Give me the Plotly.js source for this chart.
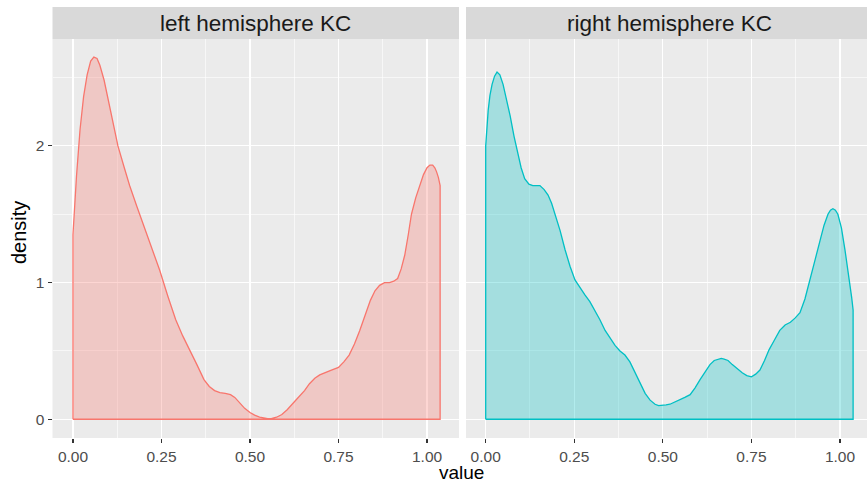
<!DOCTYPE html>
<html>
<head>
<meta charset="utf-8">
<script src="https://cdn.plot.ly/plotly-3.0.1.min.js"></script>
<style>html,body{margin:0;padding:0;background:#fff;}#chart{width:867px;height:483px;}</style>
</head>
<body>
<div id="chart"></div>
<script>
// Panel titles
const panelTitles = ["left hemisphere KC", "right hemisphere KC"];

// Left hemisphere KC density (value, density)
const leftX = [0.000, 0.010, 0.020, 0.030, 0.040, 0.050, 0.059, 0.068, 0.076, 0.088, 0.100, 0.113, 0.127, 0.145, 0.160, 0.180, 0.200, 0.222, 0.245, 0.268, 0.290, 0.310, 0.330, 0.350, 0.370, 0.385, 0.400, 0.415, 0.430, 0.445, 0.457, 0.470, 0.485, 0.500, 0.513, 0.527, 0.540, 0.550, 0.560, 0.575, 0.590, 0.605, 0.626, 0.640, 0.654, 0.668, 0.683, 0.697, 0.710, 0.730, 0.750, 0.765, 0.780, 0.795, 0.810, 0.825, 0.840, 0.853, 0.866, 0.880, 0.894, 0.906, 0.917, 0.927, 0.937, 0.947, 0.956, 0.968, 0.979, 0.990, 1.000, 1.008, 1.016, 1.022, 1.027, 1.032, 1.037];
const leftY = [1.35, 1.78, 2.12, 2.36, 2.52, 2.62, 2.65, 2.64, 2.59, 2.48, 2.34, 2.18, 2.00, 1.84, 1.71, 1.56, 1.42, 1.26, 1.09, 0.90, 0.73, 0.61, 0.51, 0.40, 0.29, 0.24, 0.21, 0.195, 0.19, 0.18, 0.16, 0.125, 0.08, 0.05, 0.03, 0.015, 0.008, 0.005, 0.005, 0.015, 0.035, 0.07, 0.13, 0.17, 0.21, 0.26, 0.30, 0.325, 0.34, 0.36, 0.38, 0.42, 0.47, 0.55, 0.65, 0.76, 0.87, 0.94, 0.98, 1.00, 1.00, 1.01, 1.03, 1.10, 1.20, 1.35, 1.50, 1.62, 1.71, 1.79, 1.84, 1.86, 1.86, 1.84, 1.81, 1.77, 1.71];

// Right hemisphere KC density (value, density)
const rightX = [0.000, 0.007, 0.012, 0.018, 0.025, 0.032, 0.040, 0.049, 0.058, 0.069, 0.080, 0.091, 0.100, 0.110, 0.122, 0.133, 0.143, 0.153, 0.165, 0.176, 0.186, 0.196, 0.210, 0.224, 0.238, 0.252, 0.266, 0.280, 0.294, 0.308, 0.322, 0.337, 0.351, 0.365, 0.379, 0.393, 0.407, 0.420, 0.435, 0.450, 0.464, 0.478, 0.488, 0.498, 0.509, 0.520, 0.534, 0.548, 0.562, 0.577, 0.591, 0.605, 0.619, 0.633, 0.645, 0.656, 0.665, 0.673, 0.684, 0.696, 0.710, 0.724, 0.737, 0.750, 0.762, 0.774, 0.787, 0.800, 0.815, 0.830, 0.845, 0.860, 0.873, 0.887, 0.901, 0.916, 0.930, 0.944, 0.955, 0.966, 0.973, 0.980, 0.987, 0.994, 1.004, 1.014, 1.021, 1.028, 1.033, 1.037];
const rightY = [2.00, 2.26, 2.37, 2.45, 2.51, 2.54, 2.52, 2.45, 2.35, 2.22, 2.07, 1.93, 1.84, 1.76, 1.72, 1.71, 1.71, 1.71, 1.68, 1.64, 1.58, 1.50, 1.38, 1.24, 1.12, 1.02, 0.96, 0.91, 0.86, 0.80, 0.73, 0.65, 0.59, 0.54, 0.50, 0.47, 0.42, 0.35, 0.27, 0.19, 0.14, 0.11, 0.10, 0.10, 0.105, 0.11, 0.125, 0.14, 0.16, 0.18, 0.23, 0.29, 0.35, 0.40, 0.43, 0.44, 0.445, 0.44, 0.43, 0.40, 0.37, 0.34, 0.32, 0.31, 0.33, 0.36, 0.43, 0.51, 0.58, 0.65, 0.69, 0.71, 0.74, 0.78, 0.88, 1.02, 1.17, 1.31, 1.42, 1.50, 1.53, 1.54, 1.53, 1.50, 1.40, 1.24, 1.12, 0.98, 0.89, 0.80];

// Axis ticks
const xTickVals = [0, 0.25, 0.5, 0.75, 1.0];
const xTickText = ["0.00", "0.25", "0.50", "0.75", "1.00"];
const yTickVals = [0, 1, 2];
const yTickText = ["0", "1", "2"];

const colors = ["#F8766D", "#00BFC4"];
const fills = ["rgba(248,118,109,0.3)", "rgba(0,191,196,0.3)"];

function polygon(xs, ys) {
  const n = xs.length;
  return {
    x: [xs[0]].concat(xs, [xs[n - 1], xs[0]]),
    y: [0].concat(ys, [0, 0])
  };
}

const pl = polygon(leftX, leftY);
const pr = polygon(rightX, rightY);

const traces = [
  {x: pl.x, y: pl.y, xaxis: "x", yaxis: "y", type: "scatter", mode: "lines",
   fill: "toself", fillcolor: fills[0], line: {color: colors[0], width: 1.3}, hoverinfo: "skip"},
  {x: pr.x, y: pr.y, xaxis: "x2", yaxis: "y2", type: "scatter", mode: "lines",
   fill: "toself", fillcolor: fills[1], line: {color: colors[1], width: 1.3}, hoverinfo: "skip"}
];

const W = 867, H = 483;
const px = v => v / W;
const py = v => (H - v) / H;

const yRange = [-0.137, 2.782];
const FONT = "Liberation Sans, Arial, Helvetica, sans-serif";

function xAxis(domain, range, anchor) {
  return {
    domain: domain, range: range, anchor: anchor,
    tickvals: xTickVals, ticktext: xTickText,
    ticks: "outside", ticklen: 4, tickwidth: 1.1, tickcolor: "#333333",
    tickfont: {family: FONT, size: 15.5, color: "#4D4D4D"},
    showgrid: true, gridcolor: "#FFFFFF", gridwidth: 1.2,
    minor: {dtick: 0.125, tick0: 0, showgrid: true, gridcolor: "#FFFFFF", gridwidth: 0.6, ticks: ""},
    zeroline: false, showline: false, fixedrange: true
  };
}
function yAxis(anchor, showLabels) {
  return {
    domain: [py(438), py(39)], range: yRange, anchor: anchor,
    tickvals: yTickVals, ticktext: showLabels ? yTickText : ["", "", ""],
    ticks: showLabels ? "outside" : "", ticklen: 4, tickwidth: 1.1, tickcolor: "#333333",
    tickfont: {family: FONT, size: 15.5, color: "#4D4D4D"},
    showgrid: true, gridcolor: "#FFFFFF", gridwidth: 1.2,
    minor: {dtick: 0.5, tick0: 0, showgrid: true, gridcolor: "#FFFFFF", gridwidth: 0.6, ticks: ""},
    zeroline: false, showline: false, fixedrange: true
  };
}

const leftDom = [px(52.5), px(459)];
const rightDom = [px(466), 1];

const layout = {
  width: W, height: H,
  margin: {l: 0, r: 0, t: 0, b: 0, pad: 0},
  paper_bgcolor: "#FFFFFF", plot_bgcolor: "#EBEBEB",
  showlegend: false,
  font: {family: FONT},
  xaxis: xAxis(leftDom, [-0.0578, 1.0903], "y"),
  xaxis2: xAxis(rightDom, [-0.0556, 1.0762], "y2"),
  yaxis: yAxis("x", true),
  yaxis2: yAxis("x2", false),
  shapes: [
    {type: "rect", xref: "paper", yref: "paper", x0: leftDom[0], x1: leftDom[1], y0: py(39), y1: py(7),
     fillcolor: "#D9D9D9", line: {width: 0}, layer: "below"},
    {type: "rect", xref: "paper", yref: "paper", x0: rightDom[0], x1: rightDom[1], y0: py(39), y1: py(7),
     fillcolor: "#D9D9D9", line: {width: 0}, layer: "below"}
  ],
  annotations: [
    {text: panelTitles[0], xref: "paper", yref: "paper", x: (leftDom[0] + leftDom[1]) / 2, y: py(23),
     xanchor: "center", yanchor: "middle", showarrow: false, font: {family: FONT, size: 22.5, color: "#1A1A1A"}},
    {text: panelTitles[1], xref: "paper", yref: "paper", x: px(669), y: py(23),
     xanchor: "center", yanchor: "middle", showarrow: false, font: {family: FONT, size: 22.5, color: "#1A1A1A"}},
    {text: "value", xref: "paper", yref: "paper", x: px(462), y: py(472), borderpad: 0,
     xanchor: "center", yanchor: "middle", showarrow: false, font: {family: FONT, size: 19, color: "#000000"}},
    {text: "density", xref: "paper", yref: "paper", x: px(19), y: py(233), textangle: -90,
     xanchor: "center", yanchor: "middle", showarrow: false, font: {family: FONT, size: 20, color: "#000000"}}
  ]
};

Plotly.newPlot("chart", traces, layout, {staticPlot: true, displayModeBar: false});
</script>
</body>
</html>
